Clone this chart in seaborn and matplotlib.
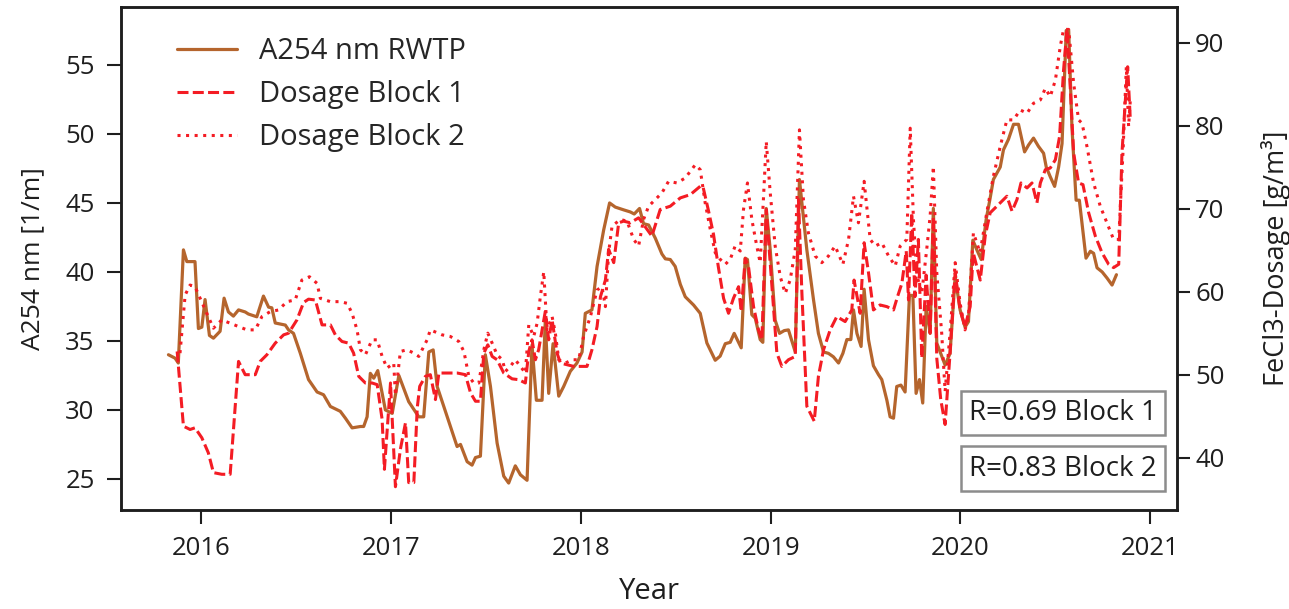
import numpy as np
import pandas as pd
import seaborn as sns
import matplotlib.pyplot as plt

# data (decimal years)
a254_t = [2015.828, 2015.863, 2015.880, 2015.907, 2015.925, 2015.968, 2015.986, 2016.004, 2016.021, 2016.044,
          2016.065, 2016.100, 2016.121, 2016.144, 2016.170, 2016.197, 2016.232, 2016.249, 2016.293, 2016.328,
          2016.355, 2016.372, 2016.390, 2016.443, 2016.460, 2016.486, 2016.522, 2016.565, 2016.610, 2016.644,
          2016.680, 2016.732, 2016.759, 2016.794, 2016.838, 2016.855, 2016.873, 2016.890, 2016.908, 2016.929,
          2016.969, 2017.005, 2017.040, 2017.092, 2017.145, 2017.171, 2017.198, 2017.221, 2017.242, 2017.295,
          2017.329, 2017.347, 2017.365, 2017.400, 2017.426, 2017.444, 2017.470, 2017.496, 2017.523, 2017.558,
          2017.593, 2017.619, 2017.654, 2017.681, 2017.716, 2017.742, 2017.765, 2017.795, 2017.812, 2017.830,
          2017.853, 2017.883, 2017.909, 2017.944, 2017.979, 2018.006, 2018.023, 2018.058, 2018.085, 2018.120,
          2018.151, 2018.181, 2018.225, 2018.260, 2018.281, 2018.309, 2018.330, 2018.357, 2018.392, 2018.427,
          2018.445, 2018.471, 2018.497, 2018.524, 2018.550, 2018.594, 2018.629, 2018.664, 2018.708, 2018.734,
          2018.761, 2018.787, 2018.808, 2018.845, 2018.866, 2018.878, 2018.901, 2018.919, 2018.945, 2018.959,
          2018.977, 2018.998, 2019.024, 2019.047, 2019.072, 2019.094, 2019.121, 2019.130, 2019.152, 2019.191,
          2019.226, 2019.252, 2019.279, 2019.305, 2019.331, 2019.358, 2019.381, 2019.402, 2019.423, 2019.437,
          2019.455, 2019.477, 2019.493, 2019.516, 2019.542, 2019.569, 2019.586, 2019.613, 2019.630, 2019.648,
          2019.665, 2019.687, 2019.709, 2019.732, 2019.750, 2019.767, 2019.785, 2019.802, 2019.820, 2019.841,
          2019.858, 2019.876, 2019.920, 2019.946, 2019.973, 2019.999, 2020.025, 2020.043, 2020.066, 2020.087,
          2020.110, 2020.136, 2020.157, 2020.174, 2020.192, 2020.210, 2020.227, 2020.253, 2020.280, 2020.306,
          2020.338, 2020.359, 2020.385, 2020.411, 2020.438, 2020.452, 2020.473, 2020.496, 2020.517, 2020.535,
          2020.557, 2020.570, 2020.587, 2020.609, 2020.626, 2020.640, 2020.661, 2020.684, 2020.701, 2020.719,
          2020.746, 2020.772, 2020.798, 2020.821]
a254_v = [34.0, 33.75, 33.4, 41.6, 40.75, 40.75, 35.9, 36.0, 38.0, 35.4,
          35.2, 35.7, 38.1, 37.1, 36.8, 37.25, 37.1, 36.95, 36.75, 38.25,
          37.45, 37.4, 36.3, 36.15, 35.8, 35.55, 34.1, 32.2, 31.3, 31.1,
          30.25, 29.9, 29.4, 28.7, 28.8, 28.8, 29.5, 32.65, 32.3, 32.85,
          30.0, 29.75, 32.5, 30.6, 29.5, 29.5, 34.2, 34.35, 31.7, 29.5,
          28.1, 27.35, 27.5, 26.25, 26.0, 26.55, 26.65, 34.0, 31.7, 27.6,
          25.2, 24.7, 25.95, 25.3, 24.9, 34.7, 30.7, 30.7, 36.4, 31.2,
          34.8, 31.0, 31.7, 32.8, 33.4, 34.2, 37.0, 37.25, 40.4, 43.05,
          45.0, 44.7, 44.5, 44.35, 44.2, 44.6, 43.5, 43.4, 42.45, 41.3,
          40.95, 40.9, 40.4, 39.1, 38.2, 37.6, 37.0, 34.85, 33.6, 33.9,
          34.8, 34.9, 35.55, 34.5, 41.0, 40.9, 36.9, 36.65, 35.1, 34.9,
          44.6, 41.6, 36.5, 35.55, 35.75, 35.8, 34.6, 34.2, 46.7, 41.6,
          38.0, 35.55, 34.2, 34.1, 33.85, 33.4, 34.1, 35.1, 35.1, 37.25,
          35.55, 34.6, 38.75, 35.1, 33.2, 32.55, 32.2, 30.7, 29.5, 29.4,
          31.7, 31.8, 31.3, 38.3, 38.3, 31.2, 32.2, 30.5, 37.5, 35.55,
          44.6, 34.85, 33.25, 34.1, 39.65, 37.25, 36.0, 36.4, 42.3, 41.6,
          40.9, 43.8, 45.35, 46.7, 47.15, 47.6, 48.85, 49.6, 50.7, 50.7,
          48.7, 49.2, 49.7, 49.1, 48.6, 47.6, 46.9, 46.2, 47.6, 49.3,
          57.5, 57.5, 50.5, 45.2, 45.2, 43.5, 41.0, 41.5, 41.35, 40.3,
          40.0, 39.55, 39.05, 39.8]

block1_t = [2015.874, 2015.907, 2015.942, 2015.968, 2016.004, 2016.038, 2016.065, 2016.109, 2016.153, 2016.197,
            2016.232, 2016.285, 2016.311, 2016.346, 2016.390, 2016.434, 2016.460, 2016.504, 2016.539, 2016.565,
            2016.601, 2016.636, 2016.680, 2016.706, 2016.741, 2016.776, 2016.802, 2016.829, 2016.864, 2016.899,
            2016.926, 2016.952, 2016.964, 2016.996, 2017.022, 2017.048, 2017.075, 2017.092, 2017.119, 2017.137,
            2017.150, 2017.180, 2017.206, 2017.233, 2017.251, 2017.295, 2017.348, 2017.391, 2017.418, 2017.444,
            2017.470, 2017.488, 2017.509, 2017.532, 2017.558, 2017.593, 2017.637, 2017.672, 2017.707, 2017.725,
            2017.742, 2017.760, 2017.777, 2017.795, 2017.812, 2017.830, 2017.848, 2017.874, 2017.892, 2017.927,
            2017.962, 2017.997, 2018.032, 2018.058, 2018.085, 2018.103, 2018.129, 2018.146, 2018.173, 2018.199,
            2018.225, 2018.260, 2018.304, 2018.330, 2018.374, 2018.418, 2018.471, 2018.524, 2018.577, 2018.629,
            2018.643, 2018.673, 2018.699, 2018.725, 2018.752, 2018.778, 2018.804, 2018.831, 2018.845, 2018.866,
            2018.883, 2018.910, 2018.936, 2018.954, 2018.977, 2019.006, 2019.033, 2019.059, 2019.094, 2019.130,
            2019.147, 2019.165, 2019.191, 2019.230, 2019.252, 2019.279, 2019.314, 2019.349, 2019.393, 2019.428,
            2019.440, 2019.472, 2019.493, 2019.516, 2019.542, 2019.577, 2019.613, 2019.648, 2019.669, 2019.692,
            2019.715, 2019.727, 2019.744, 2019.761, 2019.779, 2019.797, 2019.820, 2019.841, 2019.858, 2019.876,
            2019.897, 2019.920, 2019.946, 2019.973, 2019.999, 2020.025, 2020.052, 2020.068, 2020.105, 2020.131,
            2020.157, 2020.192, 2020.219, 2020.245, 2020.272, 2020.298, 2020.319, 2020.351, 2020.377, 2020.403,
            2020.421, 2020.447, 2020.473, 2020.500, 2020.522, 2020.543, 2020.561, 2020.578, 2020.596, 2020.622,
            2020.645, 2020.675, 2020.710, 2020.745, 2020.780, 2020.806, 2020.833, 2020.850, 2020.868, 2020.880,
            2020.894]
block1_v = [52.8, 43.8, 43.4, 43.6, 42.4, 40.6, 38.2, 38.0, 38.0, 51.6,
            50.0, 50.0, 51.6, 52.4, 53.8, 54.8, 55.0, 56.6, 58.7, 59.1,
            59.0, 56.0, 56.0, 54.8, 54.0, 53.8, 52.6, 49.8, 49.0, 49.0,
            48.8, 44.6, 38.6, 49.0, 36.5, 41.0, 44.2, 37.0, 37.0, 46.0,
            48.6, 49.8, 50.0, 47.0, 50.2, 50.2, 50.2, 50.0, 47.8, 46.8,
            46.8, 52.6, 53.6, 52.2, 51.8, 50.2, 49.5, 49.4, 49.0, 52.8,
            54.2, 51.8, 53.0, 55.4, 57.6, 54.2, 56.6, 52.6, 51.4, 51.2,
            51.0, 51.0, 51.0, 53.0, 55.8, 59.4, 61.4, 65.1, 63.5, 68.3,
            68.5, 68.3, 68.9, 68.1, 66.7, 69.9, 70.3, 71.3, 71.7, 72.7,
            72.7, 69.7, 66.9, 62.9, 59.2, 57.4, 59.2, 60.6, 57.6, 64.0,
            63.1, 58.2, 55.4, 54.2, 69.9, 61.0, 52.6, 51.0, 51.8, 52.2,
            71.1, 59.8, 46.2, 44.4, 49.8, 53.0, 55.4, 57.0, 56.4, 57.8,
            61.4, 57.4, 65.9, 62.3, 57.8, 58.4, 58.2, 57.8, 59.4, 61.0,
            64.9, 59.0, 69.5, 59.4, 66.3, 52.0, 62.0, 55.0, 69.0, 52.0,
            47.0, 44.0, 52.6, 62.3, 57.8, 55.8, 58.2, 64.7, 61.4, 66.7,
            69.5, 70.3, 70.9, 71.5, 69.7, 71.1, 73.1, 72.5, 73.1, 70.7,
            73.1, 74.7, 74.9, 75.9, 78.7, 86.7, 91.6, 84.7, 76.7, 73.1,
            72.9, 69.5, 66.7, 64.7, 63.3, 62.9, 63.3, 76.7, 83.1, 87.1,
            80.7]

block2_t = [2015.889, 2015.916, 2015.942, 2015.968, 2015.995, 2016.030, 2016.065, 2016.109, 2016.153, 2016.197,
            2016.241, 2016.285, 2016.320, 2016.364, 2016.408, 2016.451, 2016.495, 2016.530, 2016.570, 2016.610,
            2016.627, 2016.680, 2016.732, 2016.768, 2016.794, 2016.820, 2016.838, 2016.864, 2016.899, 2016.926,
            2016.952, 2016.978, 2017.013, 2017.022, 2017.048, 2017.083, 2017.119, 2017.145, 2017.189, 2017.206,
            2017.268, 2017.312, 2017.356, 2017.383, 2017.409, 2017.435, 2017.462, 2017.488, 2017.509, 2017.532,
            2017.558, 2017.585, 2017.602, 2017.628, 2017.654, 2017.681, 2017.707, 2017.725, 2017.751, 2017.769,
            2017.786, 2017.804, 2017.821, 2017.848, 2017.865, 2017.883, 2017.918, 2017.953, 2017.988, 2018.014,
            2018.050, 2018.085, 2018.111, 2018.129, 2018.146, 2018.164, 2018.208, 2018.243, 2018.278, 2018.304,
            2018.330, 2018.357, 2018.392, 2018.427, 2018.462, 2018.506, 2018.550, 2018.603, 2018.629, 2018.655,
            2018.682, 2018.708, 2018.734, 2018.761, 2018.787, 2018.813, 2018.840, 2018.857, 2018.878, 2018.901,
            2018.927, 2018.945, 2018.962, 2018.977, 2018.998, 2019.024, 2019.051, 2019.077, 2019.103, 2019.130,
            2019.152, 2019.173, 2019.199, 2019.235, 2019.270, 2019.305, 2019.340, 2019.381, 2019.411, 2019.437,
            2019.463, 2019.493, 2019.525, 2019.552, 2019.586, 2019.622, 2019.657, 2019.683, 2019.718, 2019.736,
            2019.753, 2019.771, 2019.797, 2019.823, 2019.841, 2019.858, 2019.876, 2019.902, 2019.920, 2019.946,
            2019.973, 2019.999, 2020.025, 2020.043, 2020.069, 2020.104, 2020.139, 2020.174, 2020.210, 2020.245,
            2020.280, 2020.315, 2020.351, 2020.385, 2020.421, 2020.447, 2020.473, 2020.500, 2020.526, 2020.543,
            2020.570, 2020.596, 2020.622, 2020.640, 2020.666, 2020.701, 2020.736, 2020.771, 2020.806, 2020.833,
            2020.856, 2020.873, 2020.885, 2020.894]
block2_v = [52.6, 59.6, 60.8, 60.6, 59.2, 57.4, 55.6, 56.6, 56.2, 55.8,
            55.4, 55.4, 57.0, 57.6, 57.8, 58.8, 59.0, 61.4, 61.8, 61.0,
            59.2, 58.8, 58.8, 58.6, 57.4, 55.4, 53.0, 52.4, 54.2, 54.2,
            52.2, 50.8, 51.4, 47.5, 52.8, 53.0, 52.6, 52.2, 54.2, 55.4,
            54.8, 54.6, 54.0, 52.8, 49.8, 49.0, 49.0, 53.0, 55.0, 53.8,
            52.4, 51.8, 50.4, 51.0, 51.8, 51.0, 50.2, 56.0, 54.6, 56.2,
            59.4, 62.4, 55.4, 57.0, 55.0, 51.8, 51.4, 51.8, 51.8, 54.6,
            57.0, 60.2, 60.6, 58.2, 64.7, 67.9, 68.7, 68.5, 66.3, 65.5,
            68.7, 70.3, 71.1, 71.9, 73.3, 73.1, 73.7, 75.3, 74.7, 70.7,
            67.5, 64.7, 63.9, 63.3, 63.9, 65.5, 64.9, 69.9, 73.1, 68.7,
            65.5, 63.5, 71.1, 78.1, 71.9, 65.5, 61.8, 59.8, 61.4, 65.1,
            79.5, 71.1, 67.1, 64.3, 63.5, 64.3, 65.5, 63.3, 66.3, 71.5,
            68.3, 73.3, 66.3, 65.5, 65.9, 64.3, 63.1, 65.5, 66.3, 79.7,
            68.7, 62.0, 59.8, 65.1, 69.1, 75.1, 62.3, 55.0, 48.0, 55.0,
            63.5, 58.6, 55.4, 57.0, 67.1, 64.7, 69.5, 73.9, 77.5, 80.7,
            80.7, 81.9, 81.5, 82.7, 83.1, 84.5, 83.5, 85.5, 89.6, 91.6,
            91.6, 85.1, 80.7, 80.3, 77.5, 73.1, 70.3, 68.3, 66.3, 66.3,
            77.1, 87.1, 79.9, 83.1]

labels = ["A254 nm RWTP", "Dosage Block 1", "Dosage Block 2"]
r_text = ["R=0.69 Block 1", "R=0.83 Block 2"]


def to_dates(dec):
    out = []
    for v in dec:
        y = int(v)
        start, end = pd.Timestamp(y, 1, 1), pd.Timestamp(y + 1, 1, 1)
        out.append(start + (v - y) * (end - start))
    return pd.to_datetime(out)


df_a = pd.DataFrame({"date": to_dates(a254_t), "val": a254_v})
df_b1 = pd.DataFrame({"date": to_dates(block1_t), "val": block1_v})
df_b2 = pd.DataFrame({"date": to_dates(block2_t), "val": block2_v})

sns.set_style("ticks")
plt.rcParams["font.family"] = ["Open Sans", "DejaVu Sans"]

brown = "#b5652d"
red = "#f41c24"
ink = "#1e1e1e"

fig = plt.figure(figsize=(12.89, 6.09), dpi=100)
ax = fig.add_axes([0.0939, 0.1626, 0.8192, 0.8259])
ax2 = ax.twinx()

sns.lineplot(data=df_a, x="date", y="val", ax=ax, color=brown, lw=2.3, label=labels[0])
sns.lineplot(data=df_b1, x="date", y="val", ax=ax2, color=red, lw=2.2, label=labels[1])
sns.lineplot(data=df_b2, x="date", y="val", ax=ax2, color=red, lw=2.2, label=labels[2])
ax2.lines[0].set_dashes([3.6, 1.4])
ax2.lines[1].set_dashes([1.0, 1.8])

ax.set_xlim(pd.Timestamp("2015-07-31"), pd.Timestamp("2021-02-21"))
ax.set_ylim(22.75, 59.2)
ax2.set_ylim(33.7, 94.3)
ax.set_yticks([25, 30, 35, 40, 45, 50, 55])
ax2.set_yticks([40, 50, 60, 70, 80, 90])
years = [pd.Timestamp(f"{y}-01-01") for y in range(2016, 2022)]
ax.set_xticks(years)
ax.set_xticklabels([str(y) for y in range(2016, 2022)])

ax.set_xlabel("Year", fontsize=21, labelpad=11, color=ink)
ax.set_ylabel("A254 nm [1/m]", fontsize=19, labelpad=14, color=ink)
ax2.set_ylabel("FeCl3-Dosage [g/m³]", fontsize=19.5, labelpad=26, color=ink)

for a in (ax, ax2):
    a.tick_params(axis="both", labelsize=18.5, length=10, width=1.5, pad=9, color=ink, labelcolor=ink)
    for s in a.spines.values():
        s.set_linewidth(1.8)
        s.set_color(ink)
ax2.tick_params(axis="y", length=9, pad=4)

h1, l1 = ax.get_legend_handles_labels()
h2, l2 = ax2.get_legend_handles_labels()
ax2.get_legend().remove()
ax.get_legend().remove()
ax2.legend(h1 + h2, l1 + l2, loc="upper left", bbox_to_anchor=(0.028, 0.993), frameon=False,
           handlelength=2.05, handletextpad=0.75, labelspacing=0.48, prop={"size": 21})

box = dict(boxstyle="square,pad=0.3", fc="white", ec="#8c8c8c", lw=1.8)
ax2.text(0.981, 0.193, r_text[0], transform=ax2.transAxes, ha="right", va="center", fontsize=20,
         color=ink, bbox=box)
ax2.text(0.981, 0.082, r_text[1], transform=ax2.transAxes, ha="right", va="center", fontsize=20,
         color=ink, bbox=box)

fig.savefig("out.png", dpi=100)
